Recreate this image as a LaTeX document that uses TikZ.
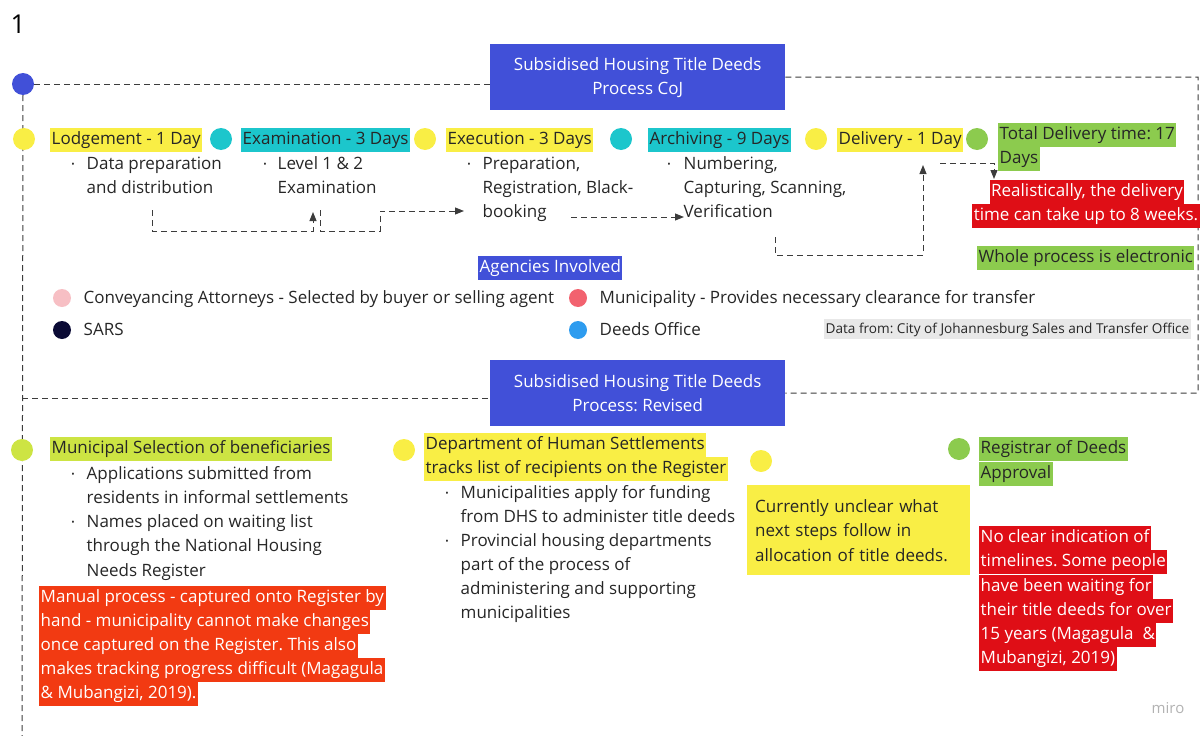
\documentclass[tikz,border=0pt]{standalone}
\usepackage{fontspec}
\setmainfont{Open Sans}
\frenchspacing
\usetikzlibrary{arrows.meta,calc}
\definecolor{ink}{HTML}{262626}
\definecolor{titleblue}{HTML}{4150D8}
\definecolor{hlyellow}{HTML}{F9EE45}
\definecolor{hlcyan}{HTML}{1CC6CC}
\definecolor{hlgreen}{HTML}{8CCB4E}
\definecolor{hllime}{HTML}{CDE443}
\definecolor{hlred}{HTML}{DF0E16}
\definecolor{hlorange}{HTML}{F23A12}
\definecolor{hlgrey}{HTML}{E8E8E8}
\definecolor{dotpink}{HTML}{F7BFC4}
\definecolor{dotrose}{HTML}{F2626F}
\definecolor{dotnavy}{HTML}{0B0B35}
\definecolor{dotsky}{HTML}{2E9CEF}
\begin{document}
\begin{tikzpicture}[x=1pt,y=-1pt,
  line/.style={font=\fontsize{17}{24}\selectfont, text=ink, inner xsep=1.5pt,
    inner ysep=0pt, text height=16.5pt, text depth=8pt, anchor=west},
  hl/.style={line, fill=#1},
  whl/.style={line, fill=#1, text=white},
  dot/.style={circle, inner sep=0pt, minimum size=22pt, fill=#1},
  ldot/.style={circle, inner sep=0pt, minimum size=18pt, fill=#1},
  bul/.style={font=\fontsize{9}{9}\selectfont, text=ink, inner sep=0pt},
  titlebox/.style={fill=titleblue, text=white, minimum width=295pt,
    minimum height=66pt, align=center, font=\fontsize{17}{24}\selectfont,
    anchor=north west, inner sep=0pt},
  dashline/.style={draw=ink!90, line width=1pt, dash pattern=on 6pt off 4pt},
  flow/.style={dashline, -{Triangle[length=9pt,width=7pt]}}]
\useasboundingbox (0,0) rectangle (1200,736);

% page number
\node[font=\fontsize{26}{26}\selectfont, inner sep=0pt] (pnum) at (18,24) {1};

% ---------- process frame ----------
\node[dot=titleblue] (start) at (23,84) {};
\node[titlebox] (title1) at (490,44) {Subsidised Housing Title Deeds\\Process CoJ};
\node[titlebox] (title2) at (490,360) {Subsidised Housing Title Deeds\\Process: Revised};
\coordinate (bottom) at (22,736);
\coordinate (rtop) at (1198,77);
\coordinate (rbot) at (1198,393);
\coordinate (lmid) at (22,398);

\draw[dashline] (start.south) -- (bottom);
\draw[dashline] (start.east) -- (start.east -| title1.west);
\draw[dashline] (title1.east) -- (rtop) -- (rbot) -- (title2.east);
\draw[dashline] (lmid) -- (lmid -| title2.west);

% ---------- CoJ stages ----------
\node[dot=hlyellow] (d1) at (24,139) {};
\node[dot=hlcyan] (d2) at (221,139) {};
\node[dot=hlyellow] (d3) at (425,139) {};
\node[dot=hlcyan] (d4) at (621,139) {};
\node[dot=hlyellow] (d5) at (816,139) {};
\node[dot=hlgreen] (d6) at (977,139) {};

\node[hl=hlyellow] (lod) at (50,140) {Lodgement - 1 Day};
\node[hl=hlcyan] (exa) at (241,140) {Examination - 3 Days};
\node[hl=hlyellow] (exe) at (446,140) {Execution - 3 Days};
\node[hl=hlcyan] (arc) at (648,140) {Archiving - 9 Days};
\node[hl=hlyellow] (del) at (837,140) {Delivery - 1 Day};
\node[hl=hlgreen] (tot1) at (998,135) {Total Delivery time: 17};
\node[hl=hlgreen] (tot2) at (998,159) {Days};

\node[bul] (lodb) at (73,165) {•};
\node[line] (lod1) at (85,165) {Data preparation};
\node[line] (lod2) at (85,189) {and distribution};

\node[bul] (exab) at (265,165) {•};
\node[line] (exa1) at (276,165) {Level 1 \& 2};
\node[line] (exa2) at (276,189) {Examination};

\node[bul] (exeb) at (469,165) {•};
\node[line] (exe1) at (481,165) {Preparation,};
\node[line] (exe2) at (481,189) {Registration, Black-};
\node[line] (exe3) at (481,213) {booking};

\node[bul] (arcb) at (669,165) {•};
\node[line] (arc1) at (682,165) {Numbering,};
\node[line] (arc2) at (682,189) {Capturing, Scanning,};
\node[line] (arc3) at (682,213) {Verification};

\node[whl=hlred, anchor=center] (real1) at (1087,192) {Realistically, the delivery};
\node[whl=hlred, anchor=center] (real2) at (1086,216) {time can take up to 8 weeks.};
\node[hl=hlgreen] (whole) at (977,258) {Whole process is electronic};

% stage connectors
\coordinate (c1a) at (152,210);
\coordinate (c1b) at (313,212);
\coordinate (c2a) at (320,210);
\coordinate (c2b) at (464,211);
\coordinate (c3a) at (571,217);
\coordinate (c3b) at (684,217);
\coordinate (c4a) at (775,237);
\coordinate (c4b) at (923,165);
\coordinate (c5a) at (940,163);
\coordinate (c5b) at (994,179);
\draw[flow] (c1a) -- ++(0,21) -| (c1b);
\draw[flow] (c2a) -- ++(0,21) -- ++(60,0) -- ++(0,-20) -- (c2b);
\draw[flow] (c3a) -- (c3b);
\draw[flow] (c4a) -- ++(0,18) -| (c4b);
\draw[flow] (c5a) -| (c5b);

% ---------- agencies ----------
\node[whl=titleblue] (agen) at (478,268) {Agencies Involved};
\node[ldot=dotpink] (a1) at (62,298) {};
\node[line] (a1t) at (82,299) {Conveyancing Attorneys - Selected by buyer or selling agent};
\node[ldot=dotrose] (a2) at (578,298) {};
\node[line] (a2t) at (598,299) {Municipality - Provides necessary clearance for transfer};
\node[ldot=dotnavy] (a3) at (62,330) {};
\node[line] (a3t) at (82,331) {SARS};
\node[ldot=dotsky] (a4) at (578,330) {};
\node[line] (a4t) at (598,331) {Deeds Office};
\node[line, fill=hlgrey, font=\fontsize{13.6}{16}\selectfont, text height=14pt,
  text depth=6pt] (src) at (824,329) {Data from: City of Johannesburg Sales and Transfer Office};

% ---------- revised process ----------
\node[dot=hllime] (e1) at (22,450) {};
\node[dot=hlyellow] (e2) at (404,450) {};
\node[dot=hlyellow] (e3) at (761,461) {};
\node[dot=hlgreen] (e4) at (959,449) {};

\node[hl=hllime] (msel) at (50,449) {Municipal Selection of beneficiaries};
\node[bul] (mselb1) at (73,475) {•};
\node[line] (msel1) at (85,475) {Applications submitted from};
\node[line] (msel2) at (85,499) {residents in informal settlements};
\node[bul] (mselb2) at (73,523) {•};
\node[line] (msel3) at (85,523) {Names placed on waiting list};
\node[line] (msel4) at (85,547) {through the National Housing};
\node[line] (msel5) at (85,572) {Needs Register};

\node[whl=hlorange] (man1) at (39,598) {Manual process - captured onto Register by};
\node[whl=hlorange] (man2) at (39,622) {hand - municipality cannot make changes};
\node[whl=hlorange] (man3) at (39,646) {once captured on the Register. This also};
\node[whl=hlorange] (man4) at (39,670) {makes tracking progress difficult (Magagula};
\node[whl=hlorange] (man5) at (39,694) {\& Mubangizi, 2019).};

\node[hl=hlyellow] (dhs1) at (424,445) {Department of Human Settlements};
\node[hl=hlyellow] (dhs2) at (424,469) {tracks list of recipients on the Register};
\node[bul] (dhsb1) at (447,494) {•};
\node[line] (dhs3) at (459,494) {Municipalities apply for funding};
\node[line] (dhs4) at (459,518) {from DHS to administer title deeds};
\node[bul] (dhsb2) at (447,542) {•};
\node[line] (dhs5) at (459,542) {Provincial housing departments};
\node[line] (dhs6) at (459,566) {part of the process of};
\node[line] (dhs7) at (459,590) {administering and supporting};
\node[line] (dhs8) at (459,614) {municipalities};

\node[fill=hlyellow, text=ink, anchor=north west, minimum width=223pt,
  minimum height=90pt, inner xsep=8pt, inner ysep=0pt, align=left,
  text width=207pt, font=\fontsize{17}{24.5}\selectfont] (unclear) at (747,485)
  {Currently unclear what\\next steps follow in\\allocation of title deeds.};

\node[hl=hlgreen] (reg1) at (979,449) {Registrar of Deeds};
\node[hl=hlgreen] (reg2) at (979,474) {Approval};

\node[whl=hlred] (nc1) at (979,538) {No clear indication of};
\node[whl=hlred] (nc2) at (979,562) {timelines. Some people};
\node[whl=hlred] (nc3) at (979,587) {have been waiting for};
\node[whl=hlred] (nc4) at (979,611) {their title deeds for over};
\node[whl=hlred] (nc5) at (979,635) {15 years (Magagula \ \&};
\node[whl=hlred] (nc6) at (979,659) {Mubangizi, 2019)};

\node[text=black!30, font=\fontsize{15}{15}\selectfont, inner sep=0pt] (miro) at (1168,708) {miro};
\end{tikzpicture}
\end{document}
